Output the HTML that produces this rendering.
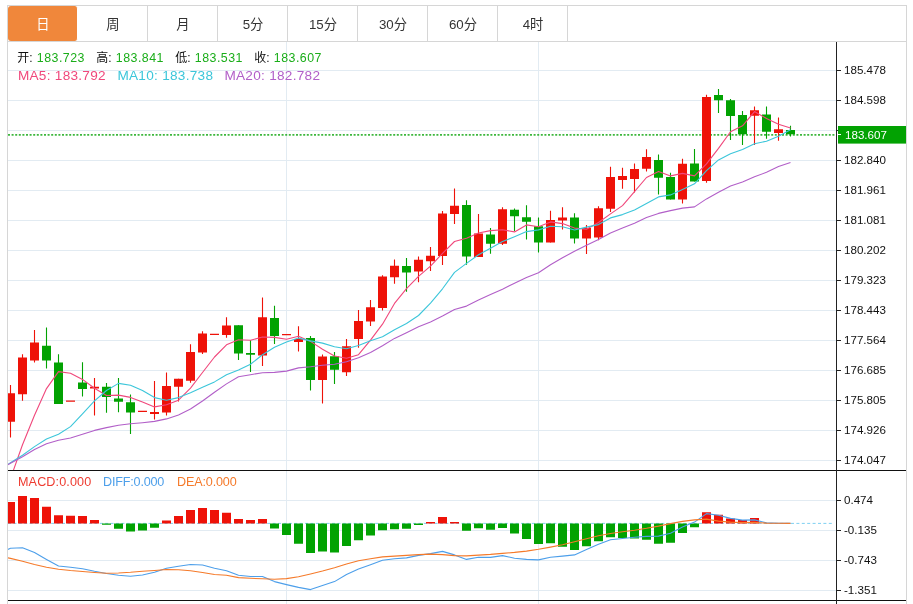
<!DOCTYPE html>
<html lang="zh-CN">
<head>
<meta charset="utf-8">
<title>K线图</title>
<style>
html,body{margin:0;padding:0;background:#fff;}
body{width:913px;height:604px;position:relative;overflow:hidden;font-family:"Liberation Sans","Noto Sans CJK SC",sans-serif;}
#frame{position:absolute;left:7px;top:5px;width:898px;height:610px;border:1px solid #d6d6d6;border-bottom:none;box-sizing:content-box;}
#tabs{position:absolute;left:8px;top:6px;width:898px;height:35px;border-bottom:1px solid #d6d6d6;}
.tab{float:left;width:68px;padding-left:1px;height:34px;padding-top:1px;line-height:35px;border-right:1px solid #d6d6d6;text-align:center;font-size:13.3px;color:#333;}
.tab.on{background:#f0873b;color:#fff;border-radius:3px;border-right-color:#fff;}
.info{position:absolute;white-space:nowrap;}
#ohlc{left:17.2px;top:50.3px;font-size:12px;line-height:16px;color:#111;}
#ohlc span{display:inline-block;}
#ohlc b{font-weight:normal;color:#1aad19;font-size:12.4px;letter-spacing:0.48px;}
#ohlc i{font-style:normal;display:inline-block;width:19.6px;}
#ohlc .it{width:79px;}
#ma{left:17.9px;top:68.4px;font-size:13.6px;letter-spacing:0.28px;line-height:16px;}
#ma span{display:inline-block;}
#macd{left:18px;top:473.7px;font-size:12.6px;line-height:16px;}
#macd span{display:inline-block;}
</style>
</head>
<body>
<div id="frame"></div>
<div id="tabs"><div class="tab on">日</div><div class="tab">周</div><div class="tab">月</div><div class="tab">5分</div><div class="tab">15分</div><div class="tab">30分</div><div class="tab">60分</div><div class="tab">4时</div></div>
<svg width="913" height="604" viewBox="0 0 913 604" style="position:absolute;left:0;top:0">
<defs><clipPath id="cm"><rect x="8" y="42" width="828" height="428"/></clipPath><clipPath id="cd"><rect x="8" y="471" width="828" height="129"/></clipPath></defs>
<path d="M8 70.5H836M8 100.5H836M8 130.5H836M8 160.5H836M8 190.5H836M8 220.5H836M8 250.5H836M8 280.5H836M8 310.5H836M8 340.5H836M8 370.5H836M8 400.5H836M8 430.5H836M8 460.5H836M8 500.5H836M8 530.5H836M8 560.5H836M8 590.5H836M286.5 42V470M286.5 471V600M286.5 601V604M538.5 42V470M538.5 471V600M538.5 601V604" stroke="#e2ebf2" stroke-width="1" fill="none" shape-rendering="crispEdges"/>
<path d="M8 134.8H836" stroke="#22ad22" stroke-width="1.7" stroke-dasharray="2 1.6" stroke-opacity="0.88" fill="none"/>
<path d="M8 523.4 H832" stroke="#7fd0f2" stroke-width="1" stroke-dasharray="3 2.4" fill="none"/>
<g clip-path="url(#cm)">
<path d="M6 393.3h9v28.4h-9zM18 357.6h9v36.6h-9zM30 342.6h9v17.9h-9zM66 400.6h9v1.2h-9zM90 386.7h9v1.8h-9zM138 410.8h9v1.2h-9zM150 412.1h9v1.8h-9zM162 386.1h9v26.3h-9zM174 378.7h9v8h-9zM186 352.1h9v28.6h-9zM198 333.6h9v19h-9zM210 333.7h9v1.2h-9zM222 325.4h9v9.6h-9zM258 317.2h9v38.3h-9zM282 334.1h9v1.2h-9zM294 339.1h9v2.8h-9zM318 356.5h9v23.4h-9zM342 346.3h9v25.9h-9zM354 321h9v18.1h-9zM366 307.2h9v14.3h-9zM378 276.6h9v31.3h-9zM390 265.7h9v11.6h-9zM414 259.7h9v11.9h-9zM426 255.7h9v5.5h-9zM438 213.5h9v42.5h-9zM450 205.8h9v8.2h-9zM474 233.6h9v23.4h-9zM498 209.3h9v34.5h-9zM546 220h9v22.6h-9zM558 217.6h9v2.8h-9zM582 228.1h9v10.4h-9zM594 208.2h9v29.3h-9zM606 177.1h9v31.6h-9zM618 176h9v4h-9zM630 169.1h9v9.8h-9zM642 157h9v11.7h-9zM678 163.7h9v35.8h-9zM702 97.1h9v83.9h-9zM750 110.3h9v5.5h-9zM774 129.3h9v3.7h-9z" fill="#ee1208"/>
<path d="M10.5 384.9V437.5M22.5 354.2V400.8M34.5 330.1V362.6M94.5 377.9V415.6M154.5 380.9V419.5M166.5 372.4V415.4M178.5 378.7V401.4M190.5 344.3V382.7M202.5 331.3V354.1M226.5 317.2V337.7M262.5 297.4V366M298.5 326.2V351.6M322.5 354.5V403.5M346.5 338.9V376.1M358.5 310.1V347.8M370.5 300.1V326M382.5 275.3V310.6M394.5 259.4V283.8M418.5 256.5V282.3M430.5 247V270.9M442.5 211V264.9M454.5 188.4V223.9M478.5 214V257M502.5 207.3V245M550.5 210.7V242.6M562.5 207.2V229.6M586.5 225.1V253.9M598.5 206.2V240.2M610.5 166.7V211.9M622.5 167.7V188.8M634.5 163.5V192.5M646.5 149.3V171.4M682.5 158.8V203.5M706.5 94.8V182.7M754.5 106.6V144.9M778.5 117.5V140.7" stroke="#ee1208" stroke-width="1.1" fill="none"/>
<path d="M42 345.8h9v14.7h-9zM54 362.4h9v41.6h-9zM78 382.5h9v6.4h-9zM102 386.7h9v10.2h-9zM114 398.5h9v3.3h-9zM126 402.2h9v10.3h-9zM234 325.2h9v28.4h-9zM246 352.9h9v1.8h-9zM270 318h9v18h-9zM306 337.9h9v42h-9zM330 356.3h9v13.4h-9zM402 266.1h9v6.5h-9zM462 205h9v51.5h-9zM486 234.6h9v9.2h-9zM510 209.8h9v6.4h-9zM522 217.2h9v4.5h-9zM534 226.3h9v16.2h-9zM570 217.4h9v21.1h-9zM654 160h9v17.8h-9zM666 177.1h9v22.4h-9zM690 163.6h9v17.9h-9zM714 95h9v5.3h-9zM726 100.3h9v15.6h-9zM738 115h9v19.2h-9zM762 114.5h9v17.2h-9zM786 129.9h9v4.4h-9z" fill="#02a202"/>
<path d="M46.5 327.5V368.4M58.5 354.2V404M82.5 362.3V396.6M106.5 383V412.8M118.5 378V412.3M130.5 394.6V433.9M238.5 325.2V359.9M250.5 339.9V371.9M274.5 305.8V344M310.5 336.1V390.6M334.5 352V383.9M406.5 258V291.7M466.5 200.3V264.7M490.5 227.9V253.7M514.5 208.5V230.9M526.5 205.3V239.6M538.5 217.4V252.5M574.5 213.2V243.5M658.5 154.5V194.5M670.5 172.7V199.5M694.5 149V181.5M718.5 89V112.9M730.5 99V140M742.5 111V144.9M766.5 106.4V138.8M790.5 125.8V136.4" stroke="#02a202" stroke-width="1.1" fill="none"/>
<path d="M-1.5 512L10.5 478.5L22.5 444.7L34.5 415.2L46.5 388.6L58.5 371.6L70.5 373.2L82.5 379.4L94.5 388.3L106.5 395.5L118.5 395.1L130.5 397.4L142.5 401.9L154.5 406.9L166.5 404.8L178.5 400.2L190.5 388.1L202.5 372.5L214.5 357L226.5 344.8L238.5 339.8L250.5 340.3L262.5 337L274.5 337.4L286.5 339.2L298.5 336.3L310.5 341.4L322.5 349.2L334.5 356L346.5 358.3L358.5 354.7L370.5 340.1L382.5 324.2L394.5 303.4L406.5 288.6L418.5 276.4L430.5 266.1L442.5 253.4L454.5 241.5L466.5 238.2L478.5 233L490.5 230.6L502.5 229.8L514.5 231.9L526.5 224.9L538.5 226.7L550.5 221.9L562.5 223.6L574.5 228.1L586.5 229.3L598.5 222.5L610.5 213.9L622.5 205.6L634.5 191.7L646.5 177.5L658.5 171.4L670.5 175.9L682.5 173.4L694.5 175.9L706.5 163.9L718.5 148.4L730.5 131.7L742.5 125.8L754.5 111.6L766.5 118.5L778.5 124.3L790.5 128" stroke="#f0487c" stroke-width="1.1" fill="none" stroke-linejoin="round"/>
<path d="M-1.5 470.5L10.5 462.8L22.5 455.2L34.5 446.6L46.5 439L58.5 434.2L70.5 426.6L82.5 413.9L94.5 400.9L106.5 390.5L118.5 383.4L130.5 385.3L142.5 390.6L154.5 397.6L166.5 400.2L178.5 397.6L190.5 392.7L202.5 387.2L214.5 381.9L226.5 374.8L238.5 370L250.5 364.2L262.5 354.8L274.5 347.2L286.5 342L298.5 338.1L310.5 340.9L322.5 343.1L334.5 346.7L346.5 348.8L358.5 345.5L370.5 340.8L382.5 336.7L394.5 329.7L406.5 323.5L418.5 315.5L430.5 303.1L442.5 288.8L454.5 272.4L466.5 263.4L478.5 254.7L490.5 248.3L502.5 241.6L514.5 236.7L526.5 231.6L538.5 229.9L550.5 226.3L562.5 226.7L574.5 230L586.5 227.1L598.5 224.6L610.5 217.9L622.5 214.6L634.5 209.9L646.5 203.4L658.5 196.9L670.5 194.9L682.5 189.5L694.5 183.8L706.5 170.7L718.5 159.9L730.5 153.8L742.5 149.6L754.5 143.7L766.5 141.2L778.5 136.3L790.5 129.8" stroke="#3cc6da" stroke-width="1.1" fill="none" stroke-linejoin="round"/>
<path d="M-1.5 470L10.5 463.2L22.5 456.7L34.5 449.5L46.5 443.8L58.5 440.3L70.5 438L82.5 434.2L94.5 430.4L106.5 427.6L118.5 425.3L130.5 423.8L142.5 422.7L154.5 421.4L166.5 418.9L178.5 415.1L190.5 409L202.5 401L214.5 392.2L226.5 383.9L238.5 376.7L250.5 374.7L262.5 372.7L274.5 372.4L286.5 371.1L298.5 367.9L310.5 366.8L322.5 365.2L334.5 364.3L346.5 361.8L358.5 357.7L370.5 352.5L382.5 345.7L394.5 338.4L406.5 332.7L418.5 326.8L430.5 322L442.5 316L454.5 309.5L466.5 306.1L478.5 300.1L490.5 294.6L502.5 289.2L514.5 283.2L526.5 277.5L538.5 272.7L550.5 264.7L562.5 257.8L574.5 251.2L586.5 245.3L598.5 239.6L610.5 233.1L622.5 228.1L634.5 223.3L646.5 217.5L658.5 213.4L670.5 210.6L682.5 208.1L694.5 206.9L706.5 198.9L718.5 192.2L730.5 185.9L742.5 182.1L754.5 176.8L766.5 172.3L778.5 166.6L790.5 162.4" stroke="#b25fc8" stroke-width="1.1" fill="none" stroke-linejoin="round"/>
</g>
<g clip-path="url(#cd)">
<path d="M6 502h9v21.4h-9zM18 496h9v27.4h-9zM30 498h9v25.4h-9zM42 506.8h9v16.6h-9zM54 515.3h9v8.1h-9zM66 515.8h9v7.6h-9zM78 516.1h9v7.3h-9zM90 519.9h9v3.5h-9zM162 520.6h9v2.8h-9zM174 516.1h9v7.3h-9zM186 510h9v13.4h-9zM198 508h9v15.4h-9zM210 510h9v13.4h-9zM222 512.8h9v10.6h-9zM234 519.1h9v4.3h-9zM246 519.9h9v3.5h-9zM258 519.1h9v4.3h-9zM426 521.9h9v1.5h-9zM438 517.1h9v6.3h-9zM450 521.9h9v1.5h-9zM702 512.3h9v11.1h-9zM714 514.8h9v8.6h-9zM726 518.4h9v5h-9zM738 520.1h9v3.3h-9zM750 518.1h9v5.3h-9z" fill="#ee1208"/>
<path d="M102 523.4h9v1.3h-9zM114 523.4h9v5.3h-9zM126 523.4h9v8.1h-9zM138 523.4h9v7.1h-9zM150 523.4h9v4.3h-9zM270 523.4h9v5h-9zM282 523.4h9v11.6h-9zM294 523.4h9v20.4h-9zM306 523.4h9v29.5h-9zM318 523.4h9v28.2h-9zM330 523.4h9v29h-9zM342 523.4h9v22.7h-9zM354 523.4h9v16.9h-9zM366 523.4h9v12.1h-9zM378 523.4h9v6.8h-9zM390 523.4h9v5.8h-9zM402 523.4h9v5.3h-9zM414 523.4h9v1.5h-9zM462 523.4h9v7.3h-9zM474 523.4h9v4.8h-9zM486 523.4h9v6.3h-9zM498 523.4h9v4.5h-9zM510 523.4h9v10.1h-9zM522 523.4h9v15.6h-9zM534 523.4h9v20.6h-9zM546 523.4h9v19.9h-9zM558 523.4h9v23.4h-9zM570 523.4h9v26.7h-9zM582 523.4h9v22.9h-9zM594 523.4h9v17.9h-9zM606 523.4h9v13.9h-9zM618 523.4h9v14.6h-9zM630 523.4h9v15.1h-9zM642 523.4h9v16.4h-9zM654 523.4h9v20.4h-9zM666 523.4h9v19.4h-9zM678 523.4h9v9.6h-9zM690 523.4h9v3.8h-9z" fill="#02a202"/>
<path d="M7 549.8L10.5 548.2L22.5 547.7L34.5 552.6L46.5 559.4L58.5 566L70.5 567.2L82.5 568.7L94.5 571.3L106.5 573.5L118.5 575.3L130.5 576.3L142.5 575L154.5 572.3L166.5 568.2L178.5 566.2L190.5 564.5L202.5 565L214.5 568.2L226.5 570.8L238.5 575.3L250.5 576.5L262.5 576.5L274.5 581.6L286.5 584.6L298.5 587.4L310.5 589.6L322.5 585.4L334.5 581.6L346.5 574.5L358.5 569L370.5 564.7L382.5 560.2L394.5 558.7L406.5 557.9L418.5 555.4L430.5 553.6L442.5 551.4L454.5 554.9L466.5 559.4L478.5 557.2L490.5 557.4L502.5 555.6L514.5 558.2L526.5 559.4L538.5 559.9L550.5 557.2L562.5 556.1L574.5 554.9L586.5 549.6L598.5 544.3L610.5 539.8L622.5 538.5L634.5 537.3L646.5 536.4L658.5 536.1L670.5 533.3L682.5 526.9L694.5 522.1L706.5 513.6L718.5 515.3L730.5 518.4L742.5 520.1L754.5 519.9L766.5 522.9L778.5 523.2L790.5 523.4" stroke="#4d9fea" stroke-width="1.1" fill="none" stroke-linejoin="round"/>
<path d="M7 557.6L10.5 558.4L22.5 561.2L34.5 564.5L46.5 567.2L58.5 569.2L70.5 570.5L82.5 571.5L94.5 572.5L106.5 573.3L118.5 573L130.5 572.3L142.5 571.3L154.5 570.5L166.5 569.5L178.5 569.7L190.5 570.8L202.5 572.5L214.5 574.5L226.5 575.3L238.5 577.6L250.5 578.3L262.5 578.8L274.5 579.3L286.5 578.6L298.5 576.8L310.5 574L322.5 571L334.5 567.7L346.5 564L358.5 560.7L370.5 558.7L382.5 556.9L394.5 556.1L406.5 555.4L418.5 554.6L430.5 554.1L442.5 554.6L454.5 555.6L466.5 555.9L478.5 555.1L490.5 554.4L502.5 553.4L514.5 552.4L526.5 551.1L538.5 549.3L550.5 547.1L562.5 544.8L574.5 541.8L586.5 538.8L598.5 535.7L610.5 533.5L622.5 531.7L634.5 530.2L646.5 528.3L658.5 526.1L670.5 523.6L682.5 521.4L694.5 519.9L706.5 519.1L718.5 521.1L730.5 522.1L742.5 522.6L754.5 522.4L766.5 523.1L778.5 523.3L790.5 523.4" stroke="#f57a2a" stroke-width="1.1" fill="none" stroke-linejoin="round"/>
</g>
<path d="M8 470.5H906M8 600.5H906" stroke="#111" stroke-width="1.2" fill="none"/>
<path d="M836.5 42V604" stroke="#222" stroke-width="1" fill="none" shape-rendering="crispEdges"/>
<path d="M837 70.5H841M837 100.5H841M837 130.5H841M837 160.5H841M837 190.5H841M837 220.5H841M837 250.5H841M837 280.5H841M837 310.5H841M837 340.5H841M837 370.5H841M837 400.5H841M837 430.5H841M837 460.5H841M837 500.5H841M837 530.5H841M837 560.5H841M837 590.5H841" stroke="#222" stroke-width="1" fill="none" shape-rendering="crispEdges"/>
<g font-family="'Liberation Sans', sans-serif" font-size="11.6" fill="#111">
<text x="844" y="74.2">185.478</text>
<text x="844" y="104.2">184.598</text>
<text x="844" y="134.2">183.719</text>
<text x="844" y="164.2">182.840</text>
<text x="844" y="194.2">181.961</text>
<text x="844" y="224.2">181.081</text>
<text x="844" y="254.2">180.202</text>
<text x="844" y="284.2">179.323</text>
<text x="844" y="314.2">178.443</text>
<text x="844" y="344.2">177.564</text>
<text x="844" y="374.2">176.685</text>
<text x="844" y="404.2">175.805</text>
<text x="844" y="434.2">174.926</text>
<text x="844" y="464.2">174.047</text>
<text x="844" y="504.2">0.474</text>
<text x="844" y="534.2">-0.135</text>
<text x="844" y="564.2">-0.743</text>
<text x="844" y="594.2">-1.351</text>
</g>
<rect x="838" y="126" width="68" height="17.6" fill="#02a202"/>
<path d="M838 134.5H841" stroke="#fff" stroke-width="1" fill="none"/>
<text x="845" y="139.4" font-family="'Liberation Sans', sans-serif" font-size="11.6" fill="#fff">183.607</text>
</svg>
<div class="info" id="ohlc"><span class="it"><i>开:</i><b>183.723</b></span><span class="it"><i>高:</i><b>183.841</b></span><span class="it"><i>低:</i><b>183.531</b></span><span class="it"><i>收:</i><b>183.607</b></span></div>
<div class="info" id="ma"><span style="color:#f0487c;width:99.5px">MA5: 183.792</span><span style="color:#3cc6da;width:107px">MA10: 183.738</span><span style="color:#b25fc8">MA20: 182.782</span></div>
<div class="info" id="macd"><span style="color:#ee3b30;width:85px;letter-spacing:0.12px">MACD:0.000</span><span style="color:#4d9fea;width:74px;letter-spacing:-0.18px">DIFF:0.000</span><span style="color:#f57a2a;letter-spacing:-0.15px">DEA:0.000</span></div>
</body>
</html>
